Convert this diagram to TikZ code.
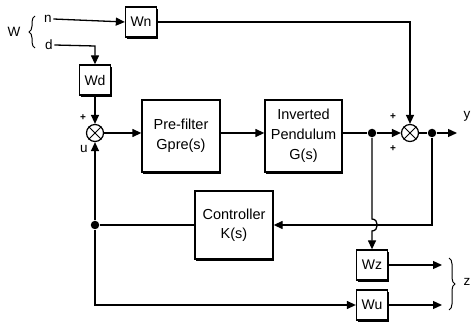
\documentclass[tikz,border=0pt]{standalone}
\usepackage{fontspec}
\setmainfont{Liberation Sans}
\usetikzlibrary{arrows.meta,shadows,decorations.pathreplacing}
\begin{document}
\begin{tikzpicture}[x=1pt,y=-1pt,
  line width=1.3pt,
  blk/.style={draw,line width=1.3pt,fill=white,align=center,inner sep=0pt,
    font=\fontsize{14.5}{20}\selectfont,
    drop shadow={shadow xshift=1.2pt,shadow yshift=-1.8pt,fill=black,opacity=1}},
  wbox/.style={blk,minimum width=31pt,minimum height=30pt,font=\fontsize{14}{16}\selectfont},
  sumj/.style={circle,draw,line width=1.2pt,fill=white,minimum size=17pt,inner sep=0pt},
  dot/.style={circle,fill=black,inner sep=0pt,minimum size=8.5pt},
  lbl/.style={font=\fontsize{13.5}{15}\selectfont,inner sep=1pt},
  sgn/.style={font=\fontsize{10}{10}\selectfont\bfseries,inner sep=0pt},
  arr/.style={-{Triangle[length=9pt,width=8pt]}},
  brc/.style={decorate,decoration={brace,amplitude=6pt},line width=1pt}
]
\useasboundingbox (0,0) rectangle (474,323);

% inputs
\node[lbl] (W) at (14,32) {W};
\node[lbl] (n) at (48,19) {n};
\node[lbl] (d) at (49,45) {d};
\draw[brc] (35,48) -- (35,16);

% blocks
\node[wbox] (Wn) at (141,22) {Wn};
\node[wbox] (Wd) at (95,80) {Wd};
\node[blk,minimum width=78pt,minimum height=72pt] (pre) at (181,136) {Pre-filter\\Gpre(s)};
\node[blk,minimum width=77pt,minimum height=72pt] (pend) at (303.5,136) {Inverted\\Pendulum\\G(s)};
\node[blk,minimum width=78pt,minimum height=68pt,font=\fontsize{14.5}{19}\selectfont] (ctrl) at (234,225) {Controller\\K(s)};
\node[wbox] (Wz) at (372,265) {Wz};
\node[wbox] (Wu) at (372,305) {Wu};

% junctions
\node[sumj] (s1) at (95,133) {};
\draw[line width=0.9pt] (s1.north west) -- (s1.south east) (s1.north east) -- (s1.south west);
\node[sumj] (s2) at (410,133) {};
\draw[line width=0.9pt] (s2.north west) -- (s2.south east) (s2.north east) -- (s2.south west);
\node[dot] (d1) at (372,133) {};
\node[dot] (d2) at (432,133) {};
\node[dot] (d3) at (95,225) {};

% coordinates
\coordinate (yend) at (457,133);
\coordinate (zend) at (442,265);
\coordinate (uend) at (442,305);
\coordinate (dcorner) at (95,46);
\coordinate (fbcorner) at (432,225);
\coordinate (hopa) at (372,219);
\coordinate (hopb) at (372,231);
\coordinate (ucorner) at (95,305);

% signs and labels
\node[sgn] at (83,118) {+};
\node[lbl] at (84,149) {u};
\node[sgn] at (393,117) {+};
\node[sgn] at (393,149) {+};
\node[lbl] at (467,116) {y};
\node[lbl] at (467,282) {z};
\draw[brc] (449,258) -- (449,310);

% connectors
\draw[arr] (n.east) -- (Wn.west);
\draw[arr] (d.east) -- (dcorner) -- (Wd.north);
\draw[arr] (Wd.south) -- (s1.north);
\draw[arr] (s1.east) -- (pre.west |- s1);
\draw[arr] (pre.east |- s1) -- (pend.west |- s1);
\draw (pend.east |- s1) -- (d1);
\draw[arr] (d1) -- (s2.west);
\draw (s2.east) -- (d2);
\draw[arr] (d2) -- (yend);
\draw[arr] (Wn.east) -| (s2.north);
\draw[arr] (d2) -- (fbcorner) -- (ctrl.east);
\draw (ctrl.west) -- (d3);
\draw[arr] (d3) -- (s1.south);
\draw[arr] (d3) -- (ucorner) -- (Wu.west);
\draw[arr] (d1) -- (hopa) .. controls (379,219) and (379,231) .. (hopb) -- (Wz.north);
\draw[arr] (Wz.east) -- (zend);
\draw[arr] (Wu.east) -- (uend);
\end{tikzpicture}
\end{document}
